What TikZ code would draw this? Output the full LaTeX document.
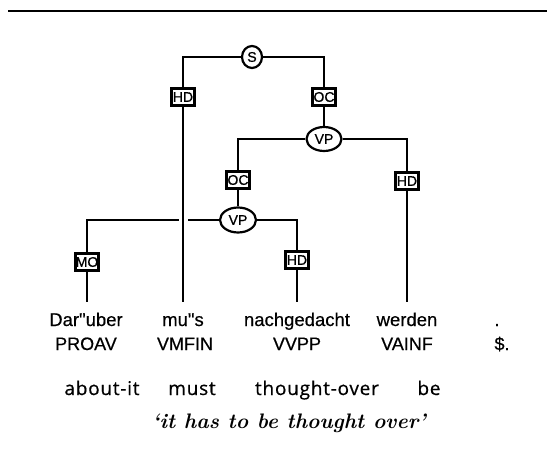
\documentclass[tikz,border=0pt]{standalone}
\usepackage{fontspec}
\usetikzlibrary{shapes.geometric,calc}
\newfontfamily\wordfont[FakeBold=0.5]{Liberation Sans}
\newfontfamily\labfont[FakeBold=0.8]{Liberation Sans}
\newfontfamily\glossfont[LetterSpace=4,FakeBold=0.6]{Open Sans}
\begin{document}
\begin{tikzpicture}[x=1bp,y=-1bp,line width=2bp,
  edgelab/.style={draw,rectangle,line width=2.4bp,minimum width=23bp,minimum height=17bp,inner sep=0pt,
     font=\labfont\fontsize{14bp}{14bp}\selectfont},
  cat/.style={draw,ellipse,line width=2.2bp,inner sep=0pt,font=\labfont\fontsize{14bp}{14bp}\selectfont},
  word/.style={inner sep=0pt,anchor=base,text height=23bp,text depth=4bp,font=\wordfont\fontsize{18.5bp}{20bp}\selectfont},
  tag/.style={inner sep=0pt,anchor=base,font=\wordfont\fontsize{18bp}{20bp}\selectfont},
  gloss/.style={inner sep=0pt,anchor=base,font=\glossfont\fontsize{19bp}{20bp}\selectfont},
  transl/.style={inner sep=0pt,anchor=base,font=\fontsize{21bp}{24bp}\selectfont\bfseries\itshape}]
\useasboundingbox (0,0) rectangle (547,453);
\coordinate (rl) at (8,11);
\coordinate (rr) at (547,11);
\draw[line width=2.6bp] (rl) -- (rr);
% categories
\node[cat,minimum width=20bp,minimum height=22bp] (S) at (252,57) {S};
\node[cat,minimum width=35bp,minimum height=24bp] (VP1) at (324,139) {VP};
\node[cat,minimum width=36bp,minimum height=25bp] (VP2) at (238,220) {VP};
% edge labels
\node[edgelab] (HD1) at (183,97) {HD};
\node[edgelab] (OC1) at (324,97) {OC};
\node[edgelab] (OC2) at (238,180) {OC};
\node[edgelab] (HD2) at (407,181) {HD};
\node[edgelab] (MO) at (87,262) {MO};
\node[edgelab] (HD3) at (297,260) {HD};
% words
\node[word] (w1) at (86,326) {Dar"uber};
\node[word] (w2) at (183,326) {mu"s};
\node[word] (w3) at (297,326) {nachgedacht};
\node[word] (w4) at (407,326) {werden};
\node[word] (w5) at (497,326) {.};
% tags
\node[tag] (t1) at (86,350) {PROAV};
\node[tag] (t2) at (185,350) {VMFIN};
\node[tag] (t3) at (297,350) {VVPP};
\node[tag] (t4) at (407,350) {VAINF};
\node[tag] (t5) at (502,350) {\$.};
% gloss
\node[gloss] (g1) at (102,395) {about-it};
\node[gloss] (g2) at (192,395) {must};
\node[gloss] (g3) at (317,395) {thought-over};
\node[gloss] (g4) at (429,395) {be};
\node[transl] (tr) at (289,428) {`it has to be thought over'};
% connectors
\draw (S.west) -| (HD1.north);
\draw (S.east) -| (OC1.north);
\draw (HD1.south) -- (HD1.south |- w2.north);
\draw (OC1.south) -- (VP1.north);
\draw (VP1.west) -| (OC2.north);
\draw (VP1.east) -| (HD2.north);
\draw (HD2.south) -- (HD2.south |- w4.north);
\draw (OC2.south) -- (VP2.north);
\draw (VP2.east) -| (HD3.north);
\draw (HD3.south) -- (HD3.south |- w3.north);
\coordinate (gapR) at ($(HD1.south |- VP2.west)+(4.5,0)$);
\coordinate (gapL) at ($(HD1.south |- VP2.west)+(-4.5,0)$);
\draw (VP2.west) -- (gapR);
\draw (gapL) -| (MO.north);
\draw (MO.south) -- (MO.south |- w1.north);
\end{tikzpicture}
\end{document}
